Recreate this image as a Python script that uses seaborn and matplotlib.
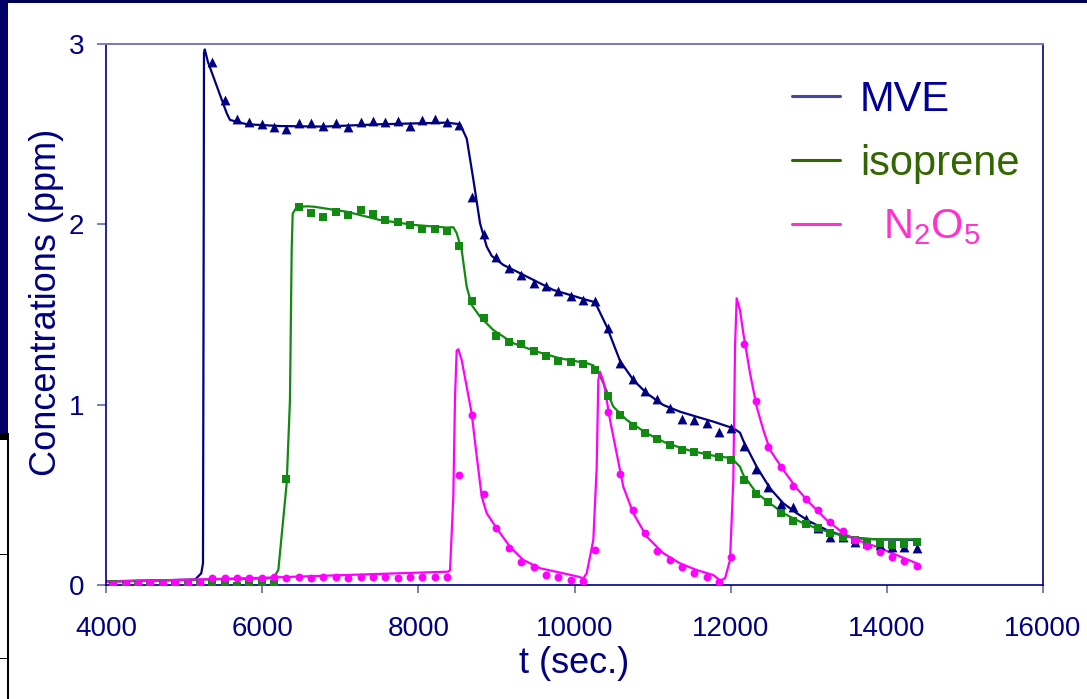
import numpy as np
import pandas as pd
import matplotlib
matplotlib.use("Agg")
import matplotlib.pyplot as plt
from matplotlib.lines import Line2D
from matplotlib.patches import Rectangle
import seaborn as sns

nan = np.nan

# ---------------- measured data (markers) ----------------
obs_time = [4094, 4252, 4411, 4569, 4727, 4886, 5044, 5202, 5360, 5519,
            5677, 5835, 5994, 6152, 6310, 6469, 6627, 6785, 6943, 7102,
            7260, 7418, 7577, 7735, 7893, 8052, 8210, 8368, 8526, 8685,
            8843, 9001, 9160, 9318, 9476, 9634, 9793, 9951, 10109, 10268,
            10426, 10584, 10743, 10901, 11059, 11217, 11376, 11534, 11692, 11851,
            12009, 12167, 12326, 12484, 12642, 12800, 12959, 13117, 13275, 13434,
            13592, 13750, 13909, 14067, 14225, 14384]

mve_obs = [nan, nan, nan, nan, nan, nan, nan, nan, 2.90, 2.69,
           2.585, 2.566, 2.557, 2.539, 2.531, 2.561, 2.562, 2.544, 2.561, 2.542,
           2.570, 2.575, 2.568, 2.572, 2.548, 2.577, 2.586, 2.568, 2.55, 2.152,
           1.945, 1.821, 1.760, 1.718, 1.677, 1.658, 1.631, 1.603, 1.579, 1.574,
           1.424, 1.233, 1.142, 1.075, 1.029, 0.983, 0.921, 0.913, 0.897, 0.850,
           0.870, 0.771, 0.646, 0.542, 0.448, 0.434, 0.368, 0.314, 0.268, 0.268,
           0.240, 0.231, 0.222, 0.212, 0.210, 0.207]

iso_obs = [0.004, 0.0, 0.004, -0.004, 0.004, 0.0, 0.0, 0.004, 0.009, 0.009,
           -0.004, 0.004, 0.009, 0.004, 0.588, 2.098, 2.065, 2.043, 2.069, 2.050,
           2.078, 2.060, 2.022, 2.012, 1.997, 1.973, 1.973, 1.962, 1.880, 1.575,
           1.481, 1.381, 1.346, 1.335, 1.298, 1.270, 1.241, 1.235, 1.228, 1.192,
           1.046, 0.943, 0.884, 0.845, 0.808, 0.778, 0.747, 0.739, 0.723, 0.709,
           0.693, 0.582, 0.503, 0.459, 0.398, 0.353, 0.337, 0.314, 0.287, 0.268,
           0.250, 0.240, 0.231, 0.222, 0.227, 0.238]

n2o5_obs = [0.005, 0.005, 0.01, 0.01, 0.01, 0.01, 0.005, 0.01, 0.04, 0.04,
            0.037, 0.037, 0.037, 0.043, 0.04, 0.042, 0.04, 0.043, 0.045, 0.04,
            0.042, 0.045, 0.043, 0.04, 0.045, 0.043, 0.046, 0.046, 0.61, 0.943,
            0.503, 0.314, 0.203, 0.129, 0.102, 0.055, 0.044, 0.028, 0.024, 0.194,
            0.958, 0.614, 0.414, 0.287, 0.190, 0.139, 0.102, 0.065, 0.043, 0.015,
            0.157, 1.335, 1.022, 0.767, 0.653, 0.551, 0.475, 0.416, 0.348, 0.301,
            0.250, 0.218, 0.181, 0.157, 0.133, 0.107]

# ---------------- model curves (lines) ----------------
mve_model_t = [4000, 5140, 5220, 5242, 5249, 5255, 5265, 5306, 5546, 5588,
               5802, 6228, 6783, 7509, 8363, 8534, 8620, 8704, 8790, 8876,
               8940, 9088, 9302, 9729, 10156, 10263, 10413, 10583, 10753, 10925,
               11138, 11351, 11565, 11778, 12034, 12119, 12162, 12333, 12504, 12674,
               12846, 13016, 13230, 13443, 13656, 13870, 14382]
mve_model = [0.02, 0.03, 0.065, 0.12, 1.5, 2.95, 2.97, 2.90, 2.616, 2.579,
             2.555, 2.545, 2.542, 2.555, 2.564, 2.555, 2.475, 2.25, 2.006, 1.876,
             1.825, 1.775, 1.729, 1.636, 1.581, 1.568, 1.433, 1.243, 1.137, 1.063,
             0.998, 0.961, 0.933, 0.906, 0.869, 0.845, 0.80, 0.656, 0.536, 0.453,
             0.398, 0.351, 0.305, 0.272, 0.259, 0.253, 0.25]

iso_model_t = [4000, 6143, 6207, 6314, 6356, 6378, 6391, 6442, 6570, 6655,
               7083, 7509, 7936, 8363, 8448, 8491, 8555, 8619, 8683, 8790,
               8960, 9216, 9516, 9814, 10156, 10241, 10305, 10369, 10497, 10669,
               10925, 11181, 11479, 11778, 12013, 12119, 12162, 12333, 12504, 12674,
               12888, 13101, 13315, 13528, 13742, 14382]
iso_model = [0.02, 0.037, 0.083, 0.564, 1.026, 1.86, 2.06, 2.095, 2.10, 2.098,
             2.07, 2.024, 1.997, 1.982, 1.984, 1.951, 1.858, 1.655, 1.553, 1.488,
             1.414, 1.341, 1.294, 1.257, 1.230, 1.218, 1.18, 1.119, 0.989, 0.915,
             0.841, 0.786, 0.745, 0.717, 0.703, 0.656, 0.61, 0.509, 0.453, 0.398,
             0.351, 0.314, 0.287, 0.265, 0.255, 0.253]

n2o5_model_t = [4000, 5998, 8384, 8406, 8448, 8470, 8491, 8512, 8555, 8619,
                8683, 8748, 8812, 8876, 9004, 9174, 9344, 9558, 9857, 10049,
                10113, 10156, 10241, 10284, 10305, 10326, 10369, 10391, 10455, 10540,
                10625, 10753, 10925, 11138, 11351, 11565, 11778, 11864, 11928, 11992,
                12034, 12056, 12077, 12119, 12162, 12248, 12333, 12418, 12504, 12674,
                12846, 13016, 13230, 13443, 13614, 13870, 14127, 14382]
n2o5_model = [0.018, 0.04, 0.074, 0.083, 0.49, 1.044, 1.30, 1.307, 1.248, 1.10,
              0.952, 0.712, 0.49, 0.398, 0.314, 0.212, 0.139, 0.093, 0.065, 0.046,
              0.037, 0.065, 0.25, 0.65, 1.137, 1.183, 1.13, 1.082, 0.915, 0.730,
              0.545, 0.398, 0.268, 0.176, 0.120, 0.083, 0.055, 0.025, 0.037, 0.139,
              0.582, 1.322, 1.59, 1.525, 1.396, 1.174, 0.989, 0.860, 0.749, 0.638,
              0.536, 0.453, 0.360, 0.287, 0.250, 0.212, 0.166, 0.120]

x_ticks = [4000, 6000, 8000, 10000, 12000, 14000, 16000]
y_ticks = [0, 1, 2, 3]
series_labels = ["MVE", "isoprene", r"  N$_2$O$_5$"]

# ---------------- styling ----------------
NAVY = "#000080"
GREEN = "#128a12"
PINK = "#ff00ff"
LEG_COLORS = ["#000099", "#336600", "#ff33cc"]
LEG_LINE = ["#4545a5", "#336600", "#ff33cc"]
TICKC = "#5a5aa8"

sns.set_theme(style="white")
plt.rcParams["font.family"] = ["Liberation Sans", "DejaVu Sans"]
plt.rcParams["mathtext.default"] = "regular"

fig = plt.figure(figsize=(10.87, 6.99), dpi=100)
W, H = 1087, 699
ax = fig.add_axes([106 / W, 1 - 585 / H, (1043 - 106) / W, (585 - 44) / H])
ax.set_facecolor("white")

# model lines
sns.lineplot(x=mve_model_t, y=mve_model, ax=ax, color=NAVY, linewidth=1.6, sort=False)
sns.lineplot(x=iso_model_t, y=iso_model, ax=ax, color=GREEN, linewidth=1.6, sort=False)
sns.lineplot(x=n2o5_model_t, y=n2o5_model, ax=ax, color=PINK, linewidth=1.6, sort=False)

# observation markers
obs = pd.DataFrame({"t": obs_time, "mve": mve_obs, "iso": iso_obs, "n2o5": n2o5_obs})
sns.scatterplot(data=obs, x="t", y="mve", ax=ax, marker="^", s=50, color=NAVY,
                linewidth=0, zorder=3)
sns.scatterplot(data=obs, x="t", y="iso", ax=ax, marker="s", s=40, color=GREEN,
                linewidth=0, zorder=4)
sns.scatterplot(data=obs, x="t", y="n2o5", ax=ax, marker="o", s=32, color=PINK,
                linewidth=0, zorder=4)

ax.set_xlim(4000, 16000)
ax.set_ylim(0, 3)
ax.set_xticks(x_ticks)
ax.set_yticks(y_ticks)
ax.tick_params(axis="both", which="both", direction="out", colors=TICKC,
               labelcolor=NAVY, labelsize=20, width=1.1)
ax.tick_params(axis="x", length=6, pad=16)
ax.tick_params(axis="y", length=6.5, pad=9)
ax.tick_params(bottom=True, left=True)

for side in ["left", "bottom", "right"]:
    ax.spines[side].set_color(NAVY)
    ax.spines[side].set_linewidth(1.2)
    ax.spines[side].set_visible(True)
ax.spines["top"].set_color("#7878b8")
ax.spines["top"].set_linewidth(1.4)
ax.spines["top"].set_visible(True)

ax.set_xlabel("t (sec.)", fontsize=26, color=NAVY, labelpad=3)
ax.set_ylabel("Concentrations (ppm)", fontsize=26, color=NAVY)
ax.yaxis.set_label_coords(-0.045, 0.523)

handles = [Line2D([], [], color=c, linewidth=2.2) for c in LEG_LINE]
leg = ax.legend(handles, series_labels, loc="upper left",
                bbox_to_anchor=((792 - 106) / 937, (585 - 80) / 541),
                frameon=False, fontsize=30, handlelength=1.15, handletextpad=0.48,
                borderpad=0, borderaxespad=0, labelspacing=0.57,
                labelcolor=LEG_COLORS)

# slide-frame decoration around the chart
deco = [((0, 1 - 3 / H), 1, 3 / H, "#000055"),
        ((0, 1 - 433 / H), 8 / W, 433 / H, "#000066"),
        ((0, 1 - 440 / H), 9 / W, 7 / H, "#000000"),
        ((7 / W, 0), 2 / W, 1 - 440 / H, "#000000"),
        ((0, 1 - 555 / H), 8 / W, 1.5 / H, "#000000"),
        ((0, 1 - 659 / H), 8 / W, 1.5 / H, "#000000")]
for xy, w, h, c in deco:
    fig.patches.append(Rectangle(xy, w, h, transform=fig.transFigure,
                                 facecolor=c, edgecolor="none", zorder=10))

fig.savefig("out.png", dpi=100, facecolor="white")
